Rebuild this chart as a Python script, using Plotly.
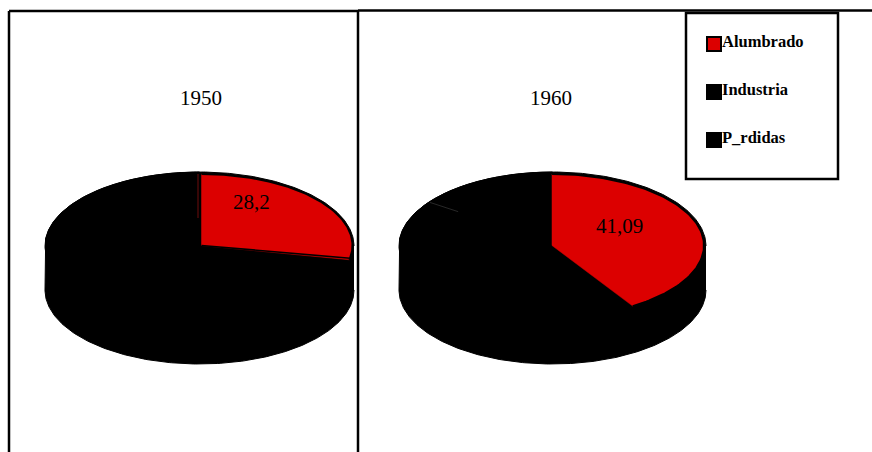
import numpy as np
import plotly.graph_objects as go

categories = ["Alumbrado", "Industria", "P_rdidas"]
years = ["1950", "1960"]
alumbrado = [28.2, 41.09]
industria = [34.0, 44.2]
perdidas = [37.8, 14.71]
value_labels = ["28,2", "41,09"]

RED = "#dc0000"
BLACK = "#000000"
FONT = "Liberation Serif"

# Per-pie drawing geometry, in page pixels
DISC_X = [199.5, 552.5]
DISC_RX = [154.5, 153.5]
FACE_X = [201.5, 552.0]
FACE_RX = [151.0, 152.0]
FACE_Y = 245.5
FACE_RY = 71.5
DISC_Y = 246.0
DISC_RY = 74.0
DEPTH = 44.0
LABEL_POS = [(251.5, 202), (619.5, 226)]
TITLE_POS = [(201, 98), (551, 98)]


def point(cx, cy, rx, ry, share):
    """Position on an ellipse for a cumulative percentage, clockwise from 12 o'clock."""
    a = np.asarray(share, dtype=float) / 100 * 2 * np.pi
    return cx + rx * np.sin(a), cy - ry * np.cos(a)


def wedge(cx, cy, rx, ry, start, end):
    s = np.linspace(start, end, 120)
    x, y = point(cx, cy, rx, ry, s)
    return np.r_[cx, x, cx], np.r_[cy, y, cy]


def fill(x, y, name, color, width=0.5):
    return go.Scatter(x=x, y=y, name=name, mode="lines", fill="toself", fillcolor=color,
                      line=dict(color=color, width=width), hoverinfo="name", showlegend=False)


def stroke(x, y, name, color, width):
    return go.Scatter(x=x, y=y, name=name, mode="lines", line=dict(color=color, width=width),
                      hoverinfo="skip", showlegend=False)


fig = go.Figure()

for i, year in enumerate(years):
    dx, rx = DISC_X[i], DISC_RX[i]
    red_end = alumbrado[i]
    ind_end = red_end + industria[i]
    per_end = ind_end + perdidas[i]

    # Whole silhouette of the disc: lower rim, then the back half of the top rim
    lx, ly = point(dx, DISC_Y + DEPTH, rx, DISC_RY, np.linspace(25, 75, 200))
    ux, uy = point(dx, DISC_Y, rx, DISC_RY, np.linspace(75, 125, 200))
    fig.add_trace(fill(np.r_[lx, ux], np.r_[ly, uy], f"{year} pared", BLACK, 1))

    # Black wedges of the top face, then the red one above them
    x, y = wedge(dx, DISC_Y, rx, DISC_RY, red_end, ind_end)
    fig.add_trace(fill(x, y, f"{year} {categories[1]}", BLACK, 1))
    x, y = wedge(dx, DISC_Y, rx, DISC_RY, ind_end, per_end)
    fig.add_trace(fill(x, y, f"{year} {categories[2]}", BLACK, 1))

    fx, rfx = FACE_X[i], FACE_RX[i]
    x, y = wedge(fx, FACE_Y, rfx, FACE_RY, 0, red_end)
    fig.add_trace(fill(x, y, f"{year} {categories[0]}", RED))

    # Dark rim along the red wedge's arc
    ax, ay = point(fx, FACE_Y, rfx, FACE_RY, np.linspace(0, red_end, 120))
    fig.add_trace(stroke(ax, ay, f"{year} borde", BLACK, 2))

# Hairline seam between the two black wedges of 1960
seam = alumbrado[1] + industria[1]
sx, sy = point(DISC_X[1], DISC_Y, DISC_RX[1], DISC_RY, seam)
fig.add_trace(stroke([sx, DISC_X[1] + (sx - DISC_X[1]) * 0.77],
                     [sy + 1, DISC_Y + (sy - DISC_Y) * 0.77], "1960 junta", "#3a3a3a", 0.7))

# The 1950 wedge carries a dark line just inside its lower edge
ex, ey = point(FACE_X[0], FACE_Y, FACE_RX[0], FACE_RY, alumbrado[0] - 0.35)
fig.add_trace(stroke([FACE_X[0], ex], [FACE_Y, ey], "1950 filo", BLACK, 1.6))

# A thin red seam shows where the 1950 wedge begins
fig.add_trace(stroke([198, 198], [174, 218], "1950 inicio", "#8a1010", 0.8))

annotations = []
for (tx, ty), year in zip(TITLE_POS, years):
    annotations.append(dict(x=tx, y=ty, text=year, showarrow=False,
                            font=dict(family=FONT, size=21, color=BLACK)))
for (tx, ty), label in zip(LABEL_POS, value_labels):
    annotations.append(dict(x=tx, y=ty, text=label, showarrow=False,
                            font=dict(family=FONT, size=21, color=BLACK)))

# Frame lines and the key box
line = dict(color=BLACK, width=2.5)
shapes = [
    dict(type="line", x0=9, x1=9, y0=11, y1=452, line=line),
    dict(type="line", x0=358, x1=358, y0=11, y1=452, line=line),
    dict(type="line", x0=9, x1=358, y0=11, y1=11, line=line),
    dict(type="line", x0=358, x1=872, y0=10.5, y1=10.5, line=line),
    dict(type="rect", x0=686, x1=838, y0=13, y1=179, fillcolor="white", line=line, layer="above"),
]
swatches = [RED, BLACK, BLACK]
for k, (name, color) in enumerate(zip(categories, swatches)):
    top = 36 + 48 * k
    shapes.append(dict(type="rect", x0=707, x1=721, y0=top + 1, y1=top + 15, fillcolor=color,
                       line=dict(color=BLACK, width=2), layer="above"))
    annotations.append(dict(x=720, y=top + 5, text=f"<b>{name}</b>", showarrow=False, xanchor="left",
                            font=dict(family=FONT, size=16.5, color=BLACK)))

fig.update_layout(
    width=872, height=452, margin=dict(l=0, r=0, t=0, b=0),
    paper_bgcolor="white", plot_bgcolor="white", showlegend=False,
    xaxis=dict(range=[0, 872], visible=False, fixedrange=True),
    yaxis=dict(range=[452, 0], visible=False, fixedrange=True),
    shapes=shapes, annotations=annotations,
)

fig.write_html("out.html")
